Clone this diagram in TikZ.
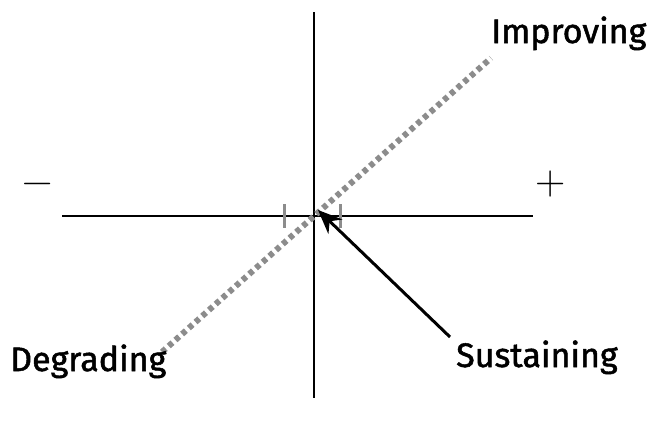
\documentclass[tikz,border=0pt]{standalone}
\usepackage{fontspec}
\setmainfont{Fira Sans}
\newfontfamily\lblfont{Fira Sans}[FakeBold=1.5]
\newfontfamily\signfont{Latin Modern Roman}
\usetikzlibrary{arrows.meta}
\tikzset{
  axis/.style={line width=1.6pt, black},
  trend/.style={line width=6pt, color=black!45, dash pattern=on 5pt off 4pt},
  tickmark/.style={line width=3pt, color=black!45},
  label/.style={font=\lblfont\fontsize{34}{34}\selectfont, inner sep=0pt},
  sign/.style={font=\signfont\fontsize{42}{42}\selectfont, inner sep=0pt},
  pointer/.style={line width=3pt, black, -{Stealth[length=24pt,width=20pt]}}
}
\begin{document}
\begin{tikzpicture}[x=1pt,y=-1pt]
\useasboundingbox (0,0) rectangle (654,426);
\coordinate (vtop) at (314,12);
\coordinate (vbot) at (314,398);
\coordinate (hleft) at (62,216);
\coordinate (hright) at (533,216);
\coordinate (dlow) at (162,352);
\coordinate (dhigh) at (491,58);
\coordinate (tl1) at (284,204);
\coordinate (tl2) at (284,228);
\coordinate (tr1) at (340,204);
\coordinate (tr2) at (340,228);
\coordinate (astart) at (450,337);
\coordinate (atip) at (318,210);
\draw[axis] (vtop) -- (vbot);
\draw[axis] (hleft) -- (hright);
\draw[trend] (dlow) -- (dhigh);
\draw[tickmark] (tl1) -- (tl2);
\draw[tickmark] (tr1) -- (tr2);
\draw[pointer] (astart) -- (atip);
\node[sign] (minus) at (38,189) {−};
\node[sign] (plus) at (551,184) {+};
\node[label, anchor=base west] (impr) at (491,43) {Improving};
\node[label, anchor=base west] (degr) at (10,371) {Degrading};
\node[label, anchor=base west] (sust) at (456,367) {Sustaining};
\end{tikzpicture}
\end{document}
